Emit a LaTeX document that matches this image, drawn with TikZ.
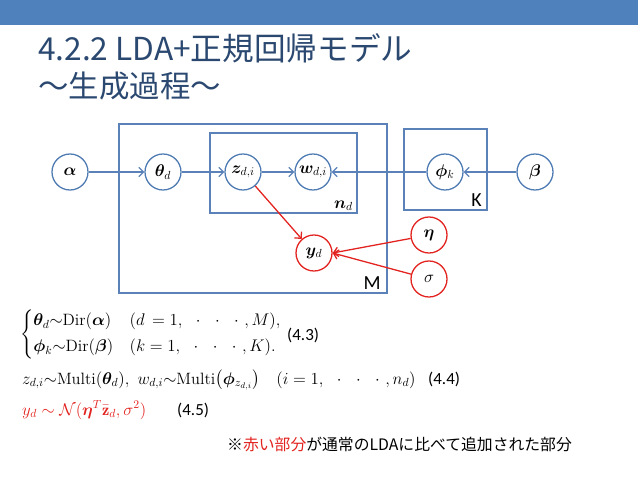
\documentclass[tikz,border=0pt]{standalone}
\usepackage{fontspec}
\usepackage{amsmath,amssymb}
\usepackage{bm}
\usetikzlibrary{arrows.meta}
\newfontfamily\jpfont{Noto Sans CJK JP}
\newfontfamily\latinfont{Carlito}
\definecolor{BarBlue}{HTML}{4F81BD}
\definecolor{TitleText}{HTML}{2A4870}
\definecolor{PlateLine}{HTML}{5A82B8}
\definecolor{NodeLine}{HTML}{4F7BB3}
\definecolor{RedLine}{HTML}{E2231F}
\newcommand{\jpdots}{\cdot\ \ \cdot\ \ \cdot\ }

\begin{document}
\begin{tikzpicture}[
	x=0.03cm, y=-0.03cm, % one unit = one pixel of the slide
	% Styles for the variable circles
	node blue/.style={
		circle,
		draw=NodeLine,
		line width=1.1pt,
		minimum size=1.08cm,
		inner sep=0pt,
		font=\Large
	},
	node red/.style={
		circle,
		draw=RedLine,
		line width=1.1pt,
		minimum size=1.08cm,
		inner sep=0pt,
		font=\Large
	},
	% Style for the plates
	plate/.style={
		draw=PlateLine,
		line width=1.3pt
	},
	plate label/.style={
		anchor=base east,
		inner sep=0pt,
		font=\latinfont\fontsize{17}{20}\selectfont
	},
	% Styles for the connecting edges
	edge/.style={
		draw=PlateLine,
		line width=1.1pt,
		-{Straight Barb[length=4pt,width=8pt]}
	},
	edge red/.style={
		draw=RedLine,
		line width=1.1pt,
		-{Straight Barb[length=4pt,width=8pt]}
	},
	% Style for the formulas below
	formula/.style={
		inner sep=0pt,
		font=\fontsize{14}{17}\selectfont
	}
	]
	
	\useasboundingbox (0,0) rectangle (638,479);
	
	% ================= HEADER =================
	\fill[BarBlue] (0,0) rectangle (638,25);
	\node[anchor=base west, inner sep=0pt, text=TitleText, font=\jpfont\fontsize{27}{30}\selectfont] (title) at (38,61) {4.2.2 LDA+正規回帰モデル};
	\node[anchor=base west, inner sep=0pt, text=TitleText, font=\jpfont\fontsize{26}{30}\selectfont] (subtitle) at (38,97) {～生成過程～};
	
	% ================= PLATES =================
	\draw[plate] (119,124) rectangle (387,293);
	\draw[plate] (210,133) rectangle (357,213);
	\draw[plate] (404,129) rectangle (487,210);
	\node[plate label] (M) at (381,289) {M};
	\node[plate label] (K) at (482,206) {K};
	\node[plate label, font=\Large] (nd) at (353,208) {$\boldsymbol{n}_d$};
	
	% ================= NODES =================
	\node[node blue] (alpha) at ( 70,172) {$\boldsymbol{\alpha}$};
	\node[node blue] (theta) at (163,172) {$\boldsymbol{\theta}_d$};
	\node[node blue] (z)     at (243,172) {$\boldsymbol{z}_{d,i}$};
	\node[node blue] (w)     at (313,172) {$\boldsymbol{w}_{d,i}$};
	\node[node blue] (phi)   at (445,172) {$\boldsymbol{\phi}_k$};
	\node[node blue] (beta)  at (535,172) {$\boldsymbol{\beta}$};
	\node[node red]  (y)     at (314,253) {$\boldsymbol{y}_d$};
	\node[node red]  (eta)   at (429,235) {$\boldsymbol{\eta}$};
	\node[node red]  (sigma) at (429,279) {$\sigma$};
	
	% ================= EDGES =================
	\draw[edge] (alpha) -- (theta);
	\draw[edge] (theta) -- (z);
	\draw[edge] (z) -- (w);
	\draw[edge] (phi) -- (w);
	\draw[edge] (beta) -- (phi);
	\draw[edge red] (z) -- (y);
	\draw[edge red] (eta) -- (y.east);
	\draw[edge red] (sigma) -- (y.east);
	
	% ================= FORMULAS =================
	\node[formula, anchor=west] (eq43) at (20,334) {$\begin{cases}
		\boldsymbol{\theta}_d{\sim}\mathrm{Dir}(\boldsymbol{\alpha}) & (d\,=1,\ \ \jpdots,M),\\[2pt]
		\boldsymbol{\phi}_k{\sim}\mathrm{Dir}(\boldsymbol{\beta}) & (k=1,\ \ \jpdots,K).
	\end{cases}$};
	\node[formula, anchor=base west, font=\latinfont\fontsize{14.5}{16}\selectfont] (tag43) at (287,340) {(4.3)};
	\node[formula, anchor=base west] (eq44) at (22,384) {$z_{d,i}{\sim}\mathrm{Multi}(\boldsymbol{\theta}_d),\ w_{d,i}{\sim}\mathrm{Multi}\bigl(\boldsymbol{\phi}_{z_{d,i}}\bigr)\quad(i=1,\ \ \jpdots,n_d)$};
	\node[formula, anchor=base west, font=\latinfont\fontsize{14.5}{16}\selectfont] (tag44) at (428,384) {(4.4)};
	\node[formula, anchor=base west, text=RedLine] (eq45) at (22,415) {$y_d \sim \mathcal{N}(\boldsymbol{\eta}^T\bar{\mathbf{z}}_d,\sigma^2)$};
	\node[formula, anchor=base west, font=\latinfont\fontsize{14.5}{16}\selectfont] (tag45) at (177,415) {(4.5)};
	\node[formula, anchor=base west, font=\jpfont\fontsize{13.5}{16}\selectfont] (note) at (227,450) {※\textcolor{RedLine}{赤い部分}が通常のLDAに比べて追加された部分};
	
\end{tikzpicture}
\end{document}
